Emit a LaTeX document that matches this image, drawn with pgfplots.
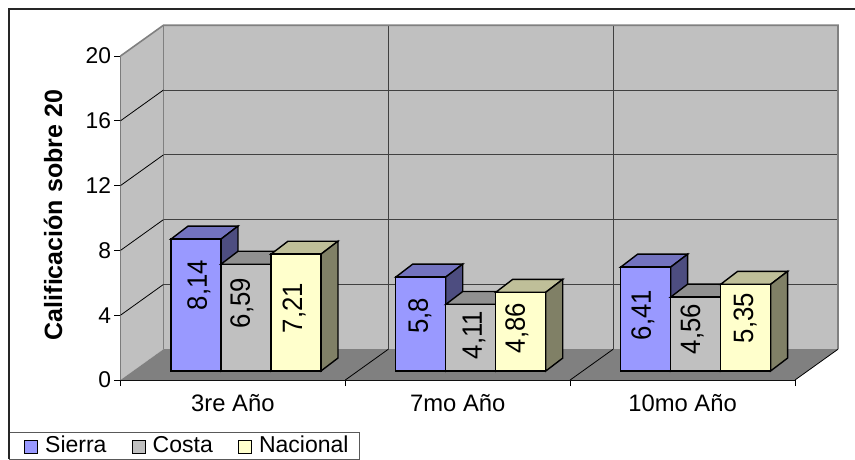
\documentclass[border=0pt]{standalone}
\usepackage{fontspec}
\setmainfont{Liberation Sans}
\newfontfamily\datafont[FakeStretch=0.92]{Liberation Sans}
\usepackage{pgfplots}
\pgfplotsset{compat=1.18}

\definecolor{wall}{RGB}{192,192,192}
\definecolor{floorgray}{RGB}{128,128,128}
\definecolor{sierra}{RGB}{153,153,255}
\definecolor{sierratop}{RGB}{115,115,191}
\definecolor{sierraside}{RGB}{77,77,128}
\definecolor{costa}{RGB}{192,192,192}
\definecolor{costatop}{RGB}{144,144,144}
\definecolor{costaside}{RGB}{96,96,96}
\definecolor{nacional}{RGB}{255,255,204}
\definecolor{nacionaltop}{RGB}{191,191,153}
\definecolor{nacionalside}{RGB}{128,128,102}

% top and side of one bar: left edge, value, colour name
\newcommand{\barfaces}[3]{%
  \pgfmathsetmacro\xr{#1+0.2224}%
  \pgfmathsetmacro\xa{#1+0.0756}%
  \pgfmathsetmacro\xb{#1+0.2980}%
  \pgfmathsetmacro\ya{#2+0.8}%
  \pgfmathsetmacro\yb{0.8}%
  \addplot[draw=black,line width=1.4pt,fill=#3top,forget plot] coordinates {(#1,#2) (\xr,#2) (\xb,\ya) (\xa,\ya)} --cycle;
  \addplot[draw=black,line width=1.4pt,fill=#3side,forget plot] coordinates {(\xr,#2) (\xb,\ya) (\xb,\yb) (\xr,0)} --cycle;
}
\newcommand{\barlabel}[3]{%
  \node[rotate=90,font=\fontsize{28}{30}\datafont] at (axis cs:#1,#2) {#3};
}

\begin{document}
\begin{tikzpicture}[x=1pt,y=1pt]
\path[use as bounding box] (0,0) rectangle (855,459);

% walls, floor, grid, ticks
\begin{axis}[
  at={(120.5pt,79pt)},anchor=south west,
  scale only axis,width=674.5pt,height=324pt,
  xmin=0,xmax=3,ymin=0,ymax=20,
  clip=false,
  axis lines*=left,
  axis line style={black,line width=1pt},
  xtick={0.5,1.5,2.5},
  xticklabels={3re Año,7mo Año,10mo Año},
  minor xtick={0,1,2,3},
  major x tick style={draw=none},
  minor tick length=6pt,
  ytick={0,4,...,20},
  tick align=outside,
  major tick length=6pt,
  tick style={black,line width=0.8pt},
  /pgf/number format/assume math mode=true,
  yticklabel style={font=\fontsize{22.8}{25}\selectfont},
  xticklabel style={font=\fontsize{23.8}{26}\selectfont,yshift=-5pt},
  ylabel={\bfseries Calificación sobre 20},
  every axis y label/.style={at={(rel axis cs:-0.1,0.509)},rotate=90,font=\fontsize{25}{27}\selectfont},
]
\addplot[fill=wall,draw=none,forget plot] coordinates {(0,0) (0.19125,1.9) (0.19125,21.9) (0,20)} --cycle;
\addplot[fill=wall,draw=none,forget plot] coordinates {(0.19125,1.9) (3.19125,1.9) (3.19125,21.9) (0.19125,21.9)} --cycle;
\addplot[fill=floorgray,draw=none,forget plot] coordinates {(0,0) (3,0) (3.19125,1.9) (0.19125,1.9)} --cycle;
% back wall grid
\addplot[black!75,line width=1pt,forget plot] coordinates {(0.19125,5.9) (3.19125,5.9)};
\addplot[black!75,line width=1pt,forget plot] coordinates {(0.19125,9.9) (3.19125,9.9)};
\addplot[black!75,line width=1pt,forget plot] coordinates {(0.19125,13.9) (3.19125,13.9)};
\addplot[black!75,line width=1pt,forget plot] coordinates {(0.19125,17.9) (3.19125,17.9)};
\addplot[black!75,line width=1pt,forget plot] coordinates {(1.19125,1.9) (1.19125,21.9)};
\addplot[black!75,line width=1pt,forget plot] coordinates {(2.19125,1.9) (2.19125,21.9)};
% wall edges
\addplot[floorgray,line width=1.6pt,forget plot] coordinates {(0,20) (0.19125,21.9) (3.19125,21.9) (3.19125,1.9)};
\addplot[floorgray,line width=1.6pt,forget plot] coordinates {(0.19125,21.9) (0.19125,1.9)};
% side wall and floor diagonals
\addplot[black,line width=0.8pt,forget plot] coordinates {(0,4) (0.19125,5.9)};
\addplot[black,line width=0.8pt,forget plot] coordinates {(0,8) (0.19125,9.9)};
\addplot[black,line width=0.8pt,forget plot] coordinates {(0,12) (0.19125,13.9)};
\addplot[black,line width=0.8pt,forget plot] coordinates {(0,16) (0.19125,17.9)};
\addplot[black,line width=0.8pt,forget plot] coordinates {(1,0) (1.19125,1.9)};
\addplot[black,line width=0.8pt,forget plot] coordinates {(2,0) (2.19125,1.9)};
\addplot[black,line width=0.8pt,forget plot] coordinates {(3,0) (3.19125,1.9)};
\end{axis}

% bars: zero sits on the floor, a little behind the front edge
\begin{axis}[
  at={(120.5pt,79pt)},anchor=south west,
  scale only axis,width=674.5pt,height=324pt,
  xmin=0,xmax=3,ymin=-0.556,ymax=19.444,
  clip=false,
  hide axis,
  legend columns=3,
  legend style={
    at={(-0.1434,-0.161)},anchor=north west,
    draw=none,fill=none,
    font=\fontsize{23}{25}\selectfont,
    inner xsep=0pt,inner ysep=1pt,
    nodes={text height=17pt,text depth=4pt},
    /tikz/every even column/.append style={column sep=23pt},
    /tikz/every odd column/.append style={column sep=5pt},
  },
  legend image code/.code={\draw[#1,line width=1.2pt] (0pt,-8pt) rectangle (13pt,5pt);},
]
\barfaces{0.2244}{8.14}{sierra}
\barfaces{1.2244}{5.8}{sierra}
\barfaces{2.2244}{6.41}{sierra}
\addplot[ybar,bar width=50pt,bar shift=-50pt,fill=sierra,draw=black,line width=1.4pt] coordinates {(0.558,8.14) (1.558,5.8) (2.558,6.41)};
\addlegendentry{Sierra}
\barfaces{0.4468}{6.59}{costa}
\barfaces{1.4468}{4.11}{costa}
\barfaces{2.4468}{4.56}{costa}
\addplot[ybar,bar width=50pt,bar shift=0pt,fill=costa,draw=black,line width=1.4pt] coordinates {(0.558,6.59) (1.558,4.11) (2.558,4.56)};
\addlegendentry{Costa}
\barfaces{0.6692}{7.21}{nacional}
\barfaces{1.6692}{4.86}{nacional}
\barfaces{2.6692}{5.35}{nacional}
\addplot[ybar,bar width=50pt,bar shift=50pt,fill=nacional,draw=black,line width=1.4pt] coordinates {(0.558,7.21) (1.558,4.86) (2.558,5.35)};
\addlegendentry{Nacional}
\barlabel{0.349}{5.31}{8,14}
\barlabel{1.332}{3.40}{5,8}
\barlabel{2.324}{3.46}{6,41}
\barlabel{0.540}{4.20}{6,59}
\barlabel{1.572}{2.22}{4,11}
\barlabel{2.542}{2.59}{4,56}
\barlabel{0.772}{3.89}{7,21}
\barlabel{1.763}{2.65}{4,86}
\barlabel{2.778}{3.27}{5,35}
\end{axis}

\draw[black!65,line width=0.8pt] (9,0) rectangle (359,27);
\draw[black!85,line width=1.6pt] (9,0) -- (9,450) -- (855,450);
\end{tikzpicture}
\end{document}
